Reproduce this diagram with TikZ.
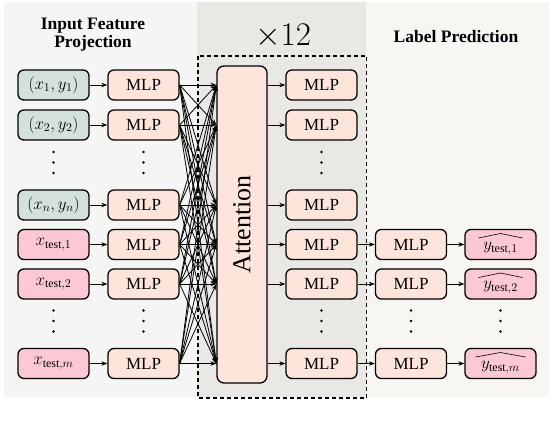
\RequirePackage{fix-cm}
\documentclass[tikz,border=0pt]{standalone}
\usepackage{fontspec}
\setmainfont{Liberation Serif}
\usepackage{graphicx}
\usetikzlibrary{arrows.meta,calc}
\definecolor{panelL}{HTML}{F5F5F3}
\definecolor{panelM}{HTML}{EAE8E4}
\definecolor{panelR}{HTML}{F8F6F2}
\definecolor{inbox}{HTML}{D4E0DB}
\definecolor{mlpbox}{HTML}{FDE5DB}
\definecolor{pinkbox}{HTML}{FCC8D4}
\begin{document}
\begin{tikzpicture}[x=1pt,y=-1pt,
  box/.style={draw=black, line width=1.3pt, rounded corners=6pt, minimum width=71pt, minimum height=30pt, inner sep=0pt, font=\fontsize{17}{20}\selectfont},
  inb/.style={box, fill=inbox},
  mlp/.style={box, fill=mlpbox},
  pinkb/.style={box, fill=pinkbox},
  attbox/.style={draw=black, line width=1.3pt, rounded corners=7pt, fill=mlpbox, minimum width=50pt, minimum height=317pt, inner sep=0pt, font=\fontsize{26}{30}\selectfont},
  conn/.style={line width=0.8pt, -{Stealth[length=6pt,width=4.5pt]}},
  title/.style={align=center, font=\fontsize{17.5}{18}\selectfont\bfseries},
  dot/.style={fill=black, draw=none, circle, minimum size=2.6pt, inner sep=0pt},
  hatline/.style={line width=0.6pt, line join=miter}
]
\useasboundingbox (0,0) rectangle (552,422);
% panels
\fill[panelL] (4,2) rectangle (197,397);
\fill[panelM] (197,2) rectangle (366,397);
\fill[panelR] (366,2) rectangle (549,397);
\draw[line width=1.4pt, dash pattern=on 4pt off 3pt] (198,56) rectangle (366.5,398);
% titles
\node[title] (t1) at (93,35) {Input Feature\\Projection};
\node[title] (t3) at (456,37) {Label Prediction};
\node[font=\fontsize{33}{36}\selectfont] (t2) at (283,36) {$\times12$};
% input column
\node[inb] (in0) at (53.5,85) {$(x_1,y_1)$};
\node[inb] (in1) at (53.5,125) {$(x_2,y_2)$};
\node[inb] (in3) at (53.5,205) {$(x_n,y_n)$};
\node[pinkb] (in4) at (53.5,244.5) {$x_{\mathrm{test},1}$};
\node[pinkb] (in5) at (53.5,284) {$x_{\mathrm{test},2}$};
\node[pinkb] (in7) at (53.5,363.5) {$x_{\mathrm{test},m}$};
% left MLPs
\foreach \r/\y in {0/85,1/125,3/205,4/244.5,5/284,7/363.5}{
  \node[mlp] (lm\r) at (143.5,\y) {MLP};
  \draw[conn] (in\r.east) -- (lm\r.west);
}
% attention
\node[attbox] (att) at (242,224.5) {\rotatebox{90}{Attention}};
\foreach \i in {0,1,3,4,5,7}{
  \foreach \j in {0,1,3,4,5,7}{
    \draw[conn] (lm\i.east) -- (att.west |- lm\j);
  }
}
% middle MLPs
\foreach \r/\y in {0/85,1/125,3/205,4/244.5,5/284,7/363.5}{
  \node[mlp] (mm\r) at (321.5,\y) {MLP};
  \draw[conn] (att.east |- mm\r) -- (mm\r.west);
}
% right MLPs and outputs
\node[mlp] (rm4) at (411,244.5) {MLP};
\node[mlp] (rm5) at (411,284) {MLP};
\node[mlp] (rm7) at (411,363.5) {MLP};
\node[pinkb, text height=9pt, text depth=3pt] (out4) at (500.5,244.5) {\raisebox{-2pt}{$y_{\mathrm{test},1}$}};
\node[pinkb, text height=9pt, text depth=3pt] (out5) at (500.5,284) {\raisebox{-2pt}{$y_{\mathrm{test},2}$}};
\node[pinkb, text height=9pt, text depth=3pt] (out7) at (500.5,363.5) {\raisebox{-2pt}{$y_{\mathrm{test},m}$}};
% wide hats over outputs
\draw[hatline] ($(out4.center)+(-22,-6.5)$) -- ($(out4.center)+(0,-11)$) -- ($(out4.center)+(22,-6.5)$);
\draw[hatline] ($(out5.center)+(-22,-6.5)$) -- ($(out5.center)+(0,-11)$) -- ($(out5.center)+(22,-6.5)$);
\draw[hatline] ($(out7.center)+(-25,-6.5)$) -- ($(out7.center)+(0,-11)$) -- ($(out7.center)+(25,-6.5)$);
\foreach \r in {4,5,7}{
  \draw[conn] (mm\r.east) -- (rm\r.west);
  \draw[conn] (rm\r.east) -- (out\r.west);
}
% dots
\foreach \x in {53.5,143.5,321.5}{
  \foreach \y in {152,162.5,173}{ \node[dot] at (\x,\y) {}; }
}
\foreach \x in {53.5,143.5,321.5,411,500.5}{
  \foreach \y in {310.5,321,331.5}{ \node[dot] at (\x,\y) {}; }
}
\end{tikzpicture}
\end{document}
